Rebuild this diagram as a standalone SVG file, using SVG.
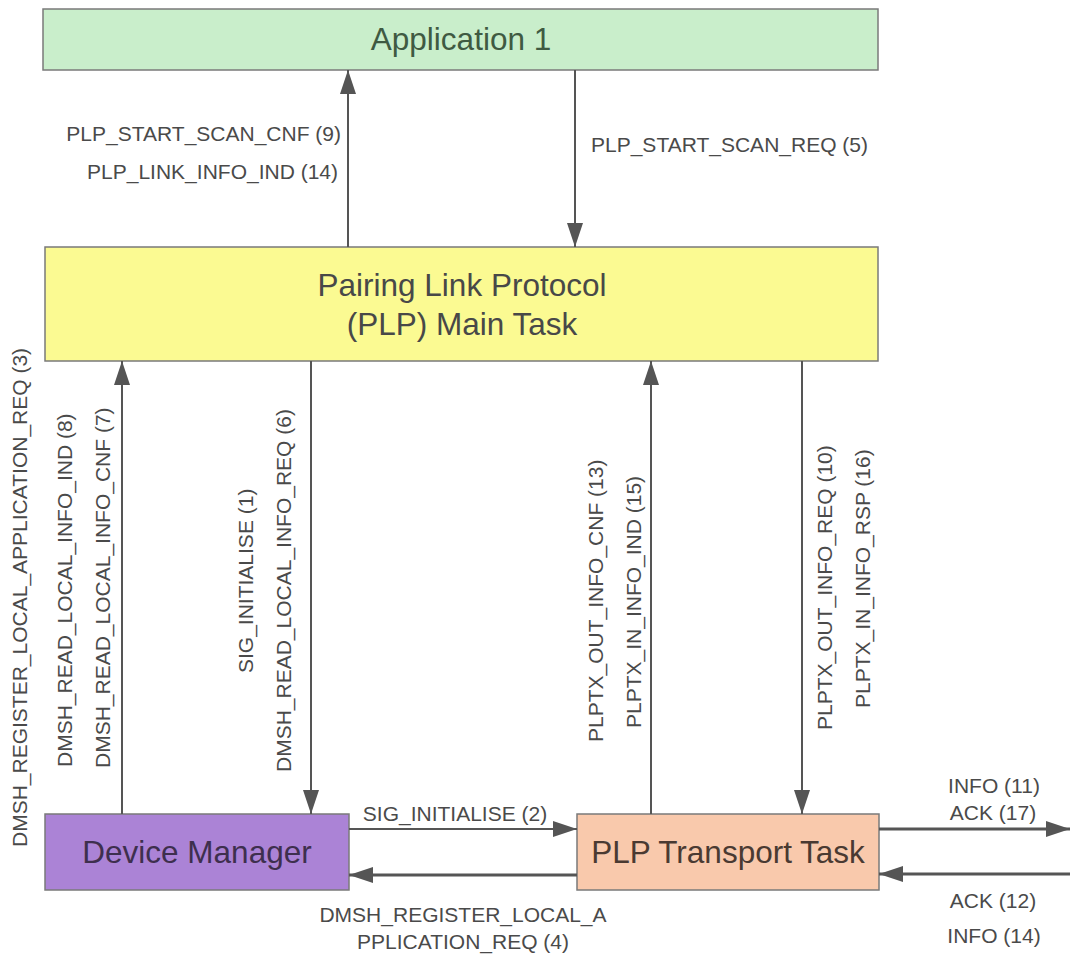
<svg xmlns="http://www.w3.org/2000/svg" width="1072" height="955" viewBox="0 0 1072 955">
<defs>
<marker id="ah" viewBox="0 0 24 16" refX="24" refY="8" markerWidth="24" markerHeight="16" markerUnits="userSpaceOnUse" orient="auto">
<path d="M0,0 L24,8 L0,16 Z" fill="#555"/>
</marker>
</defs>
<style>
.box{stroke:#7a7a7a;stroke-width:1.5}
.title{font-family:"Liberation Sans",Arial,sans-serif;font-size:31.5px;text-anchor:middle;fill:#484848}
.lbl{font-family:"Liberation Sans",Arial,sans-serif;font-size:21px;fill:#4a4a4a}
.c{stroke:#555;stroke-width:2;fill:none;marker-end:url(#ah)}
.ct{stroke:#555;stroke-width:3;fill:none;marker-end:url(#ah)}
</style>
<rect width="1072" height="955" fill="#ffffff"/>

<g id="app1">
<rect class="box" x="43" y="9" width="835" height="61" fill="#c9eecb"/>
<text class="title" x="461" y="50" fill="#3f5a42" style="fill:#3f5a42">Application 1</text>
</g>

<g id="plp-main">
<rect class="box" x="45" y="247" width="833" height="114" fill="#fbfa92"/>
<text class="title" x="462" y="296">Pairing Link Protocol</text>
<text class="title" x="462" y="335">(PLP) Main Task</text>
</g>

<g id="device-manager">
<rect class="box" x="45" y="814" width="304" height="76" fill="#ab83d6"/>
<text class="title" x="197" y="863" style="fill:#3e2f4e">Device Manager</text>
</g>

<g id="plp-transport">
<rect class="box" x="577" y="814" width="302" height="76" fill="#f9c9ac"/>
<text class="title" x="728" y="863" style="fill:#4a3a32">PLP Transport Task</text>
</g>

<g id="connectors">
<line class="c" x1="348" y1="247" x2="348" y2="70"/>
<line class="c" x1="575" y1="70" x2="575" y2="247"/>
<line class="c" x1="122" y1="814" x2="122" y2="361"/>
<line class="c" x1="311" y1="361" x2="311" y2="814"/>
<line class="c" x1="651" y1="814" x2="651" y2="361"/>
<line class="c" x1="802" y1="361" x2="802" y2="814"/>
<line class="c" x1="349" y1="829" x2="577" y2="829"/>
<line class="ct" x1="577" y1="875" x2="349" y2="875"/>
<line class="ct" x1="879" y1="829" x2="1070" y2="829"/>
<line class="ct" x1="1070" y1="874" x2="879" y2="874"/>
</g>

<g id="labels">
<text class="lbl" x="341" y="141" text-anchor="end">PLP_START_SCAN_CNF (9)</text>
<text class="lbl" x="338" y="179" text-anchor="end">PLP_LINK_INFO_IND (14)</text>
<text class="lbl" x="591" y="152">PLP_START_SCAN_REQ (5)</text>

<text class="lbl" transform="translate(27,847) rotate(-90)">DMSH_REGISTER_LOCAL_APPLICATION_REQ (3)</text>
<text class="lbl" transform="translate(72,767) rotate(-90)">DMSH_READ_LOCAL_INFO_IND (8)</text>
<text class="lbl" transform="translate(110,768) rotate(-90)">DMSH_READ_LOCAL_INFO_CNF (7)</text>
<text class="lbl" transform="translate(253,673) rotate(-90)">SIG_INITIALISE (1)</text>
<text class="lbl" transform="translate(291,772) rotate(-90)">DMSH_READ_LOCAL_INFO_REQ (6)</text>
<text class="lbl" transform="translate(603,742) rotate(-90)">PLPTX_OUT_INFO_CNF (13)</text>
<text class="lbl" transform="translate(641,728) rotate(-90)">PLPTX_IN_INFO_IND (15)</text>
<text class="lbl" transform="translate(832,730) rotate(-90)">PLPTX_OUT_INFO_REQ (10)</text>
<text class="lbl" transform="translate(870,708) rotate(-90)">PLPTX_IN_INFO_RSP (16)</text>

<text class="lbl" x="455" y="821" text-anchor="middle">SIG_INITIALISE (2)</text>
<text class="lbl" x="463" y="922" text-anchor="middle">DMSH_REGISTER_LOCAL_A</text>
<text class="lbl" x="463" y="949" text-anchor="middle">PPLICATION_REQ (4)</text>

<text class="lbl" x="994" y="793" text-anchor="middle">INFO (11)</text>
<text class="lbl" x="993" y="820" text-anchor="middle">ACK (17)</text>
<text class="lbl" x="993" y="908" text-anchor="middle">ACK (12)</text>
<text class="lbl" x="994" y="943" text-anchor="middle">INFO (14)</text>
</g>
</svg>
